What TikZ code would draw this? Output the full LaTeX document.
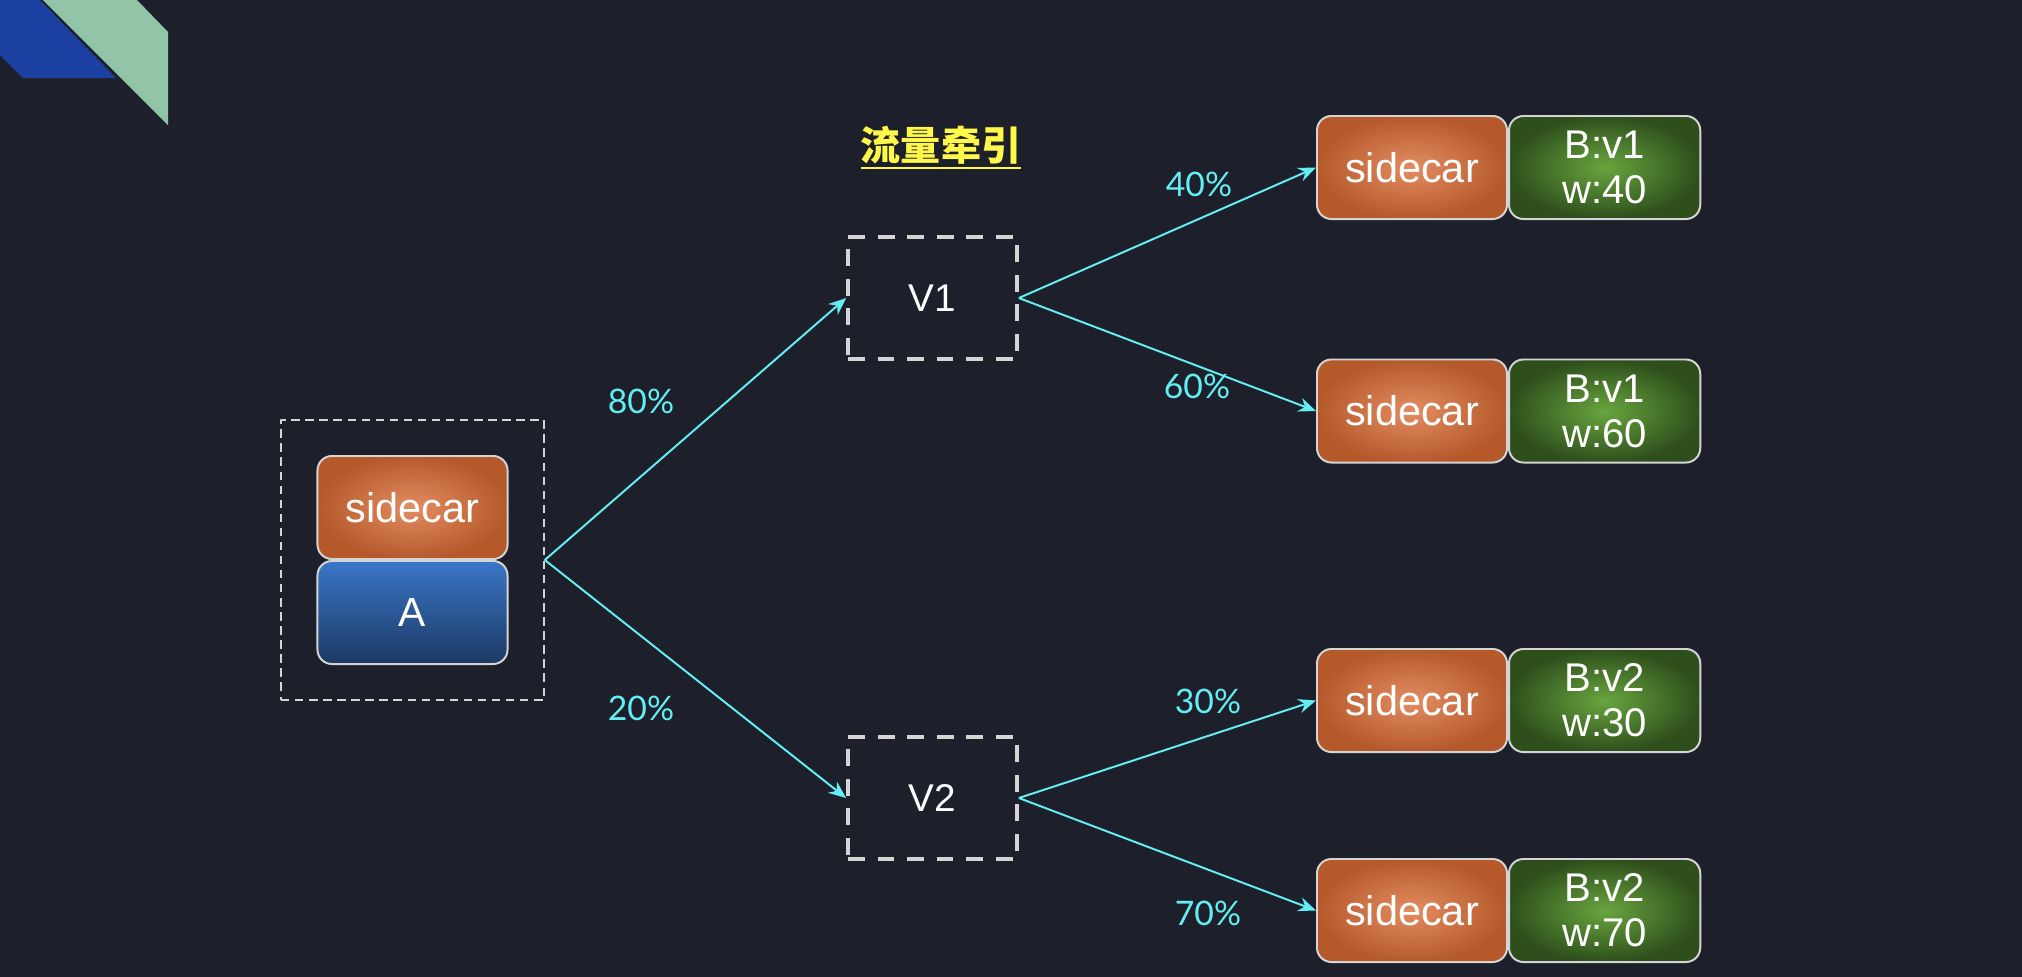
\documentclass[tikz,border=0pt]{standalone}
\usepackage{fontspec}
\setmainfont{Liberation Sans}
\newfontfamily\pctfont{Lato}
\newfontfamily\cjkfont{Noto Sans CJK SC}
\usetikzlibrary{positioning,arrows.meta}

\definecolor{bgdark}{HTML}{1D202A}
\definecolor{decoblue}{HTML}{1B40A2}
\definecolor{decogreen}{HTML}{92C5A7}
\definecolor{orangein}{HTML}{E38D62}
\definecolor{orangeout}{HTML}{B5592B}
\definecolor{greenin}{HTML}{68A53E}
\definecolor{greenout}{HTML}{2E4F1C}
\definecolor{bluetop}{HTML}{3A76C8}
\definecolor{bluebot}{HTML}{1C3963}
\definecolor{boxline}{HTML}{D4D4D4}
\definecolor{flowcyan}{HTML}{62EEF2}
\definecolor{titleyellow}{HTML}{FFF84A}

\begin{document}
\begin{tikzpicture}[x=0.025cm,y=-0.025cm,line join=round,
    card/.style={draw=boxline,line width=1.4pt,rounded corners=0.36cm,
      minimum width=4.75cm,minimum height=2.575cm,inner sep=0pt,
      text=white,align=center},
    sidecarbox/.style={card,inner color=orangein,outer color=orangeout,
      font=\fontsize{29.5}{32}\selectfont},
    versionbox/.style={card,minimum width=4.78cm,inner color=greenin,outer color=greenout,
      font=\fontsize{28.5}{32}\selectfont},
    appbox/.style={card,top color=bluetop,bottom color=bluebot,
      font=\fontsize{29}{32}\selectfont},
    groupbox/.style={draw=boxline,line width=1.1pt,dash pattern=on 6pt off 4pt,
      minimum width=6.575cm,minimum height=7cm},
    routebox/.style={draw=boxline,line width=2.6pt,dash pattern=on 12pt off 9pt,
      minimum width=4.225cm,minimum height=3.05cm,text=white,
      font=\fontsize{27.5}{30}\selectfont},
    flow/.style={draw=flowcyan,line width=1.4pt,
      -{Stealth[length=0.44cm,width=0.36cm,inset=0.15cm]}},
    pct/.style={text=flowcyan,font=\pctfont\fontsize{24}{28}\selectfont}]

  % ---- sfondo e decorazione ------------------------------------------------
  \useasboundingbox (0,0) rectangle (2022,976);
  \fill[bgdark] (-4,-4) rectangle (2026,980);
  \fill[decoblue] (0,0) -- (40,0) -- (116,78) -- (23,78) -- (0,55) -- cycle;
  \fill[decogreen] (43,0) -- (137,0) -- (168,32) -- (168,125) -- cycle;

  % ---- titolo ----------------------------------------------------------------
  \node[inner sep=0pt,text=titleyellow,font=\cjkfont\bfseries\fontsize{28.5}{32}\selectfont]
    (title) at (941,145) {流量牵引};
  \draw[titleyellow,line width=1.6pt] ([yshift=-0.2cm]title.base west) -- ([yshift=-0.2cm]title.base east);

  % ---- servizio A con sidecar ----------------------------------------------
  \node[groupbox] (grp) at (412.5,560) {};
  \node[sidecarbox] (sa) at (412.5,507.5) {sidecar};
  \node[appbox,below=0pt of sa] (a) {A};

  % ---- versioni --------------------------------------------------------------
  \node[routebox] (v1) at (932.5,298) {V1};
  \node[routebox] (v2) at (932.5,798) {V2};

  % ---- istanze B ---------------------------------------------------------------
  \node[sidecarbox] (s1) at (1412,167.5) {sidecar};
  \node[versionbox,right=0pt of s1] (b1) {B:v1\\w:40};
  \node[sidecarbox] (s2) at (1412,411) {sidecar};
  \node[versionbox,right=0pt of s2] (b2) {B:v1\\w:60};
  \node[sidecarbox] (s3) at (1412,700.5) {sidecar};
  \node[versionbox,right=0pt of s3] (b3) {B:v2\\w:30};
  \node[sidecarbox] (s4) at (1412,910.5) {sidecar};
  \node[versionbox,right=0pt of s4] (b4) {B:v2\\w:70};

  % ---- instradamento -------------------------------------------------------
  \draw[flow] (grp.east) -- (v1.west);
  \draw[flow] (grp.east) -- (v2.west);
  \draw[flow] (v1.east) -- (s1.west);
  \draw[flow] (v1.east) -- (s2.west);
  \draw[flow] (v2.east) -- (s3.west);
  \draw[flow] (v2.east) -- (s4.west);

  \node[pct] (p80) at (641,401) {80\%};
  \node[pct] (p20) at (641,708) {20\%};
  \node[pct] (p40) at (1199,184) {40\%};
  \node[pct] (p60) at (1197,386) {60\%};
  \node[pct] (p30) at (1208,701) {30\%};
  \node[pct] (p70) at (1208,913) {70\%};

\end{tikzpicture}
\end{document}
